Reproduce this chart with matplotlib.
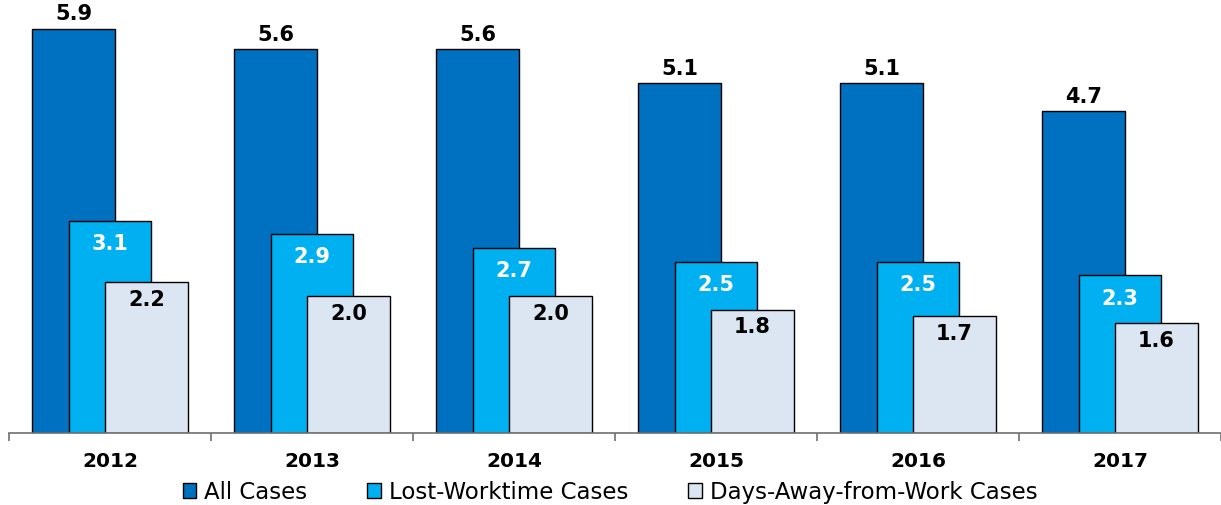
import numpy as np
import matplotlib
matplotlib.use("Agg")
import matplotlib.pyplot as plt

years = ["2012", "2013", "2014", "2015", "2016", "2017"]
all_cases = [5.9, 5.6, 5.6, 5.1, 5.1, 4.7]
lost_worktime = [3.1, 2.9, 2.7, 2.5, 2.5, 2.3]
days_away = [2.2, 2.0, 2.0, 1.8, 1.7, 1.6]

plt.rcParams["font.family"] = ["DejaVu Sans"]

fig = plt.figure(figsize=(12.21, 5.06), dpi=100)
ax = fig.add_axes([9 / 1221, 72 / 506, 1212 / 1221, 425 / 506])

x = np.arange(len(years))
w = 0.41
off = 0.18

series = [
    (all_cases, -off, "#0070C0", "All Cases"),
    (lost_worktime, 0.0, "#00B0F0", "Lost-Worktime Cases"),
    (days_away, off, "#DCE6F2", "Days-Away-from-Work Cases"),
]

bars = []
for vals, dx, color, name in series:
    b = ax.bar(x + dx, vals, width=w, color=color, edgecolor="black",
               linewidth=1.0, label=name)
    bars.append(b)

# value labels: above the dark bars, inside the other two
lbl = dict(ha="center", va="center", fontsize=15, fontweight="bold",
           textcoords="offset points")
for rect, v in zip(bars[0], all_cases):
    ax.annotate(f"{v:.1f}", (rect.get_x() + rect.get_width() / 2, v),
                xytext=(0, 11), color="black", **lbl)
for rect, v in zip(bars[1], lost_worktime):
    ax.annotate(f"{v:.1f}", (rect.get_x() + rect.get_width() / 2, v),
                xytext=(0, -16), color="white", **lbl)
for rect, v in zip(bars[2], days_away):
    ax.annotate(f"{v:.1f}", (rect.get_x() + rect.get_width() / 2, v),
                xytext=(0, -12), color="black", **lbl)

ax.set_xlim(-0.5, len(years) - 0.5)
ax.set_ylim(0, 6.2)
for s in ["top", "right", "left"]:
    ax.spines[s].set_visible(False)
ax.spines["bottom"].set_color("#6f6f6f")
ax.spines["bottom"].set_linewidth(1.2)
ax.set_yticks([])

ax.set_xticks(x)
ax.set_xticklabels(years, fontsize=14.5, fontweight="bold")
ax.tick_params(axis="x", which="major", length=0, pad=13)
ax.set_xticks(np.arange(-0.5, len(years), 1.0), minor=True)
ax.tick_params(axis="x", which="minor", length=6, width=1.2, color="#6f6f6f",
               direction="out")

fig.legend(loc="center", bbox_to_anchor=(610 / 1221, 1 - 493 / 506), ncol=3,
           frameon=False, fontsize=16.5, handlelength=0.6, handleheight=0.6,
           handletextpad=0.35, columnspacing=2.6)

fig.savefig("out.png", dpi=100)
